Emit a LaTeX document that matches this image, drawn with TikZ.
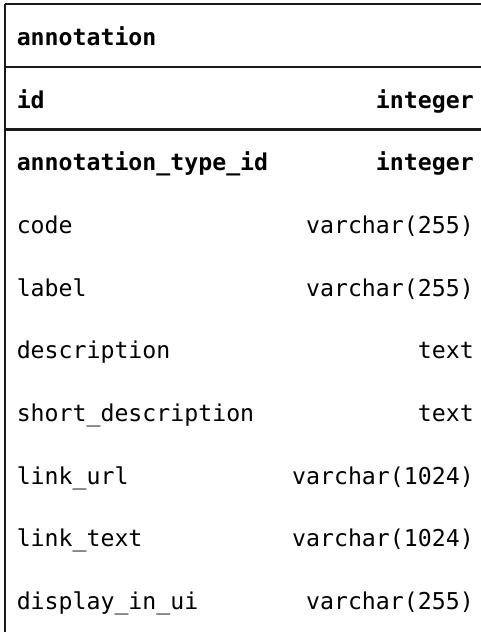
\documentclass[tikz,border=0pt]{standalone}
\usepackage{fontspec}
\setmonofont{DejaVu Sans Mono}
\begin{document}
\begin{tikzpicture}[x=0.75pt,y=-0.75pt,
  cell/.style={inner sep=0pt,font=\ttfamily\fontsize{17.4pt}{20pt}\selectfont},
  namecell/.style={cell,anchor=base west},
  typecell/.style={cell,anchor=base east},
  boldcell/.style={font=\ttfamily\bfseries\fontsize{17.4pt}{20pt}\selectfont},
  rule/.style={line width=1.6pt,draw=black!90}]
\useasboundingbox (0,0) rectangle (481,632);
\fill[white] (0,0) rectangle (481,632);
% frame
\draw[rule] (5,4.3) -- (482,4.3);
\draw[rule] (5,67) -- (482,67);
\draw[rule] (5,129.5) -- (482,129.5);
\draw[rule] (5,3.5) -- (5,640);
% header
\node[namecell,boldcell] (title) at (16.5,45) {annotation};
% rows
\node[namecell,boldcell] (n1) at (16.5,108) {id};
\node[typecell,boldcell] (t1) at (474,108) {integer};
\node[namecell,boldcell] (n2) at (16.5,170.7) {annotation\_type\_id};
\node[typecell,boldcell] (t2) at (474,170.7) {integer};
\node[namecell] (n3) at (16.5,233.4) {code};
\node[typecell] (t3) at (474,233.4) {varchar(255)};
\node[namecell] (n4) at (16.5,296.1) {label};
\node[typecell] (t4) at (474,296.1) {varchar(255)};
\node[namecell] (n5) at (16.5,358.8) {description};
\node[typecell] (t5) at (474,358.8) {text};
\node[namecell] (n6) at (16.5,421.5) {short\_description};
\node[typecell] (t6) at (474,421.5) {text};
\node[namecell] (n7) at (16.5,484.2) {link\_url};
\node[typecell] (t7) at (474,484.2) {varchar(1024)};
\node[namecell] (n8) at (16.5,546.9) {link\_text};
\node[typecell] (t8) at (474,546.9) {varchar(1024)};
\node[namecell] (n9) at (16.5,609.6) {display\_in\_ui};
\node[typecell] (t9) at (474,609.6) {varchar(255)};
\end{tikzpicture}
\end{document}
